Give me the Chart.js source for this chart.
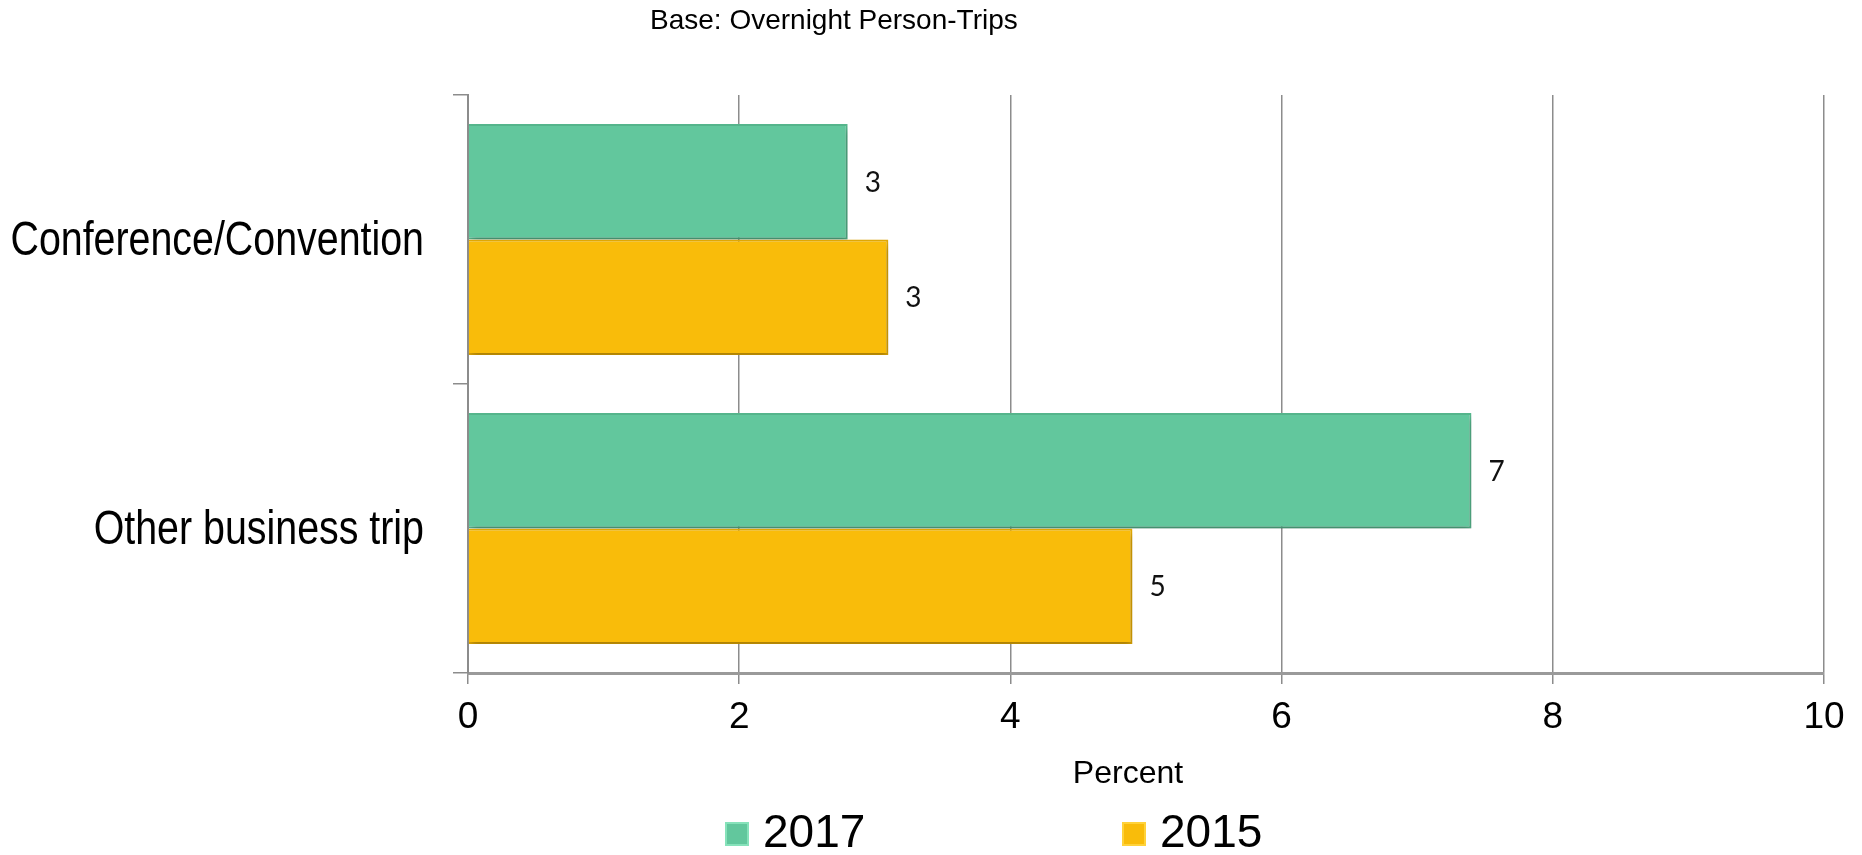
<!DOCTYPE html>
<html>
<head>
<meta charset="utf-8">
<script src="https://cdn.jsdelivr.net/npm/chart.js@4"></script>
<style>
  html, body { margin: 0; padding: 0; background: #fff; }
  #wrap { width: 1862px; height: 855px; }
</style>
</head>
<body>
<div id="wrap"><canvas id="tripChart" width="1862" height="855"></canvas></div>
<script>
// Chart data
const categories = ["Conference/Convention", "Other business trip"];
const years = ["2017", "2015"];
const values2017 = [2.8, 7.4];
const values2015 = [3.1, 4.9];
const xTicks = [0, 2, 4, 6, 8, 10];

const chartTitle = "Base: Overnight Person-Trips";
const xAxisTitle = "Percent";

const green = "#62C79D";
const yellow = "#F9BC0A";
const plainFont = "'Liberation Sans', Arial, sans-serif";

// soft shadow under the bars
const barShadow = {
  id: "barShadow",
  beforeDatasetsDraw(chart) {
    const ctx = chart.ctx;
    ctx.save();
    ctx.shadowColor = "rgba(0, 0, 0, 0.28)";
    ctx.shadowBlur = 7;
    ctx.shadowOffsetX = 2;
    ctx.shadowOffsetY = 4;
  },
  afterDatasetsDraw(chart) {
    chart.ctx.restore();
  },
};

// value labels at the end of each bar
const valueLabels = {
  id: "valueLabels",
  afterDatasetsDraw(chart) {
    const ctx = chart.ctx;
    ctx.save();
    ctx.font = "28px Lato, 'Open Sans', sans-serif";
    ctx.fillStyle = "#111";
    ctx.textAlign = "left";
    ctx.textBaseline = "middle";
    chart.data.datasets.forEach((ds, i) => {
      chart.getDatasetMeta(i).data.forEach((bar, j) => {
        ctx.fillText(String(Math.round(ds.data[j])), bar.x + 17, bar.y + 1);
      });
    });
    ctx.restore();
  },
};

// category names in a condensed face (no narrow font installed, so squeeze it)
const categoryLabels = {
  id: "categoryLabels",
  afterDraw(chart) {
    const ctx = chart.ctx;
    const yScale = chart.scales.y;
    const rightEdge = chart.chartArea.left - 15 - 29;
    ctx.save();
    ctx.fillStyle = "#000";
    ctx.font = "48px " + plainFont;
    ctx.textAlign = "right";
    ctx.textBaseline = "middle";
    yScale.ticks.forEach((tick, i) => {
      const y = yScale.getPixelForTick(i);
      ctx.save();
      ctx.translate(rightEdge, y + 2);
      ctx.scale(0.82, 1);
      ctx.fillText(yScale.getLabelForValue(tick.value), 0, 0);
      ctx.restore();
    });
    ctx.restore();
  },
};

// header text, axis title and the spread-out legend
const headerAndLegend = {
  id: "headerAndLegend",
  afterDraw(chart) {
    const ctx = chart.ctx;
    ctx.save();
    ctx.fillStyle = "#000";
    ctx.font = "28px " + plainFont;
    ctx.textAlign = "left";
    ctx.textBaseline = "alphabetic";
    ctx.fillText(chartTitle, 650, 29);

    ctx.font = "32px " + plainFont;
    ctx.textAlign = "center";
    ctx.textBaseline = "middle";
    ctx.fillText(xAxisTitle, 1128, 774);

    ctx.textAlign = "left";
    ctx.textBaseline = "alphabetic";
    const legendX = [725, 1122];
    chart.data.datasets.forEach((ds, i) => {
      const x = legendX[i];
      ctx.fillStyle = ds.backgroundColor;
      ctx.fillRect(x, 822, 24, 24);
      ctx.strokeStyle = ds.legendEdge;
      ctx.lineWidth = 2;
      ctx.strokeRect(x + 1, 823, 22, 22);
      ctx.fillStyle = "#000";
      ctx.font = "46px " + plainFont;
      ctx.fillText(ds.label, x + 38, 847);
    });
    ctx.restore();
  },
};

const ctx = document.getElementById("tripChart").getContext("2d");

new Chart(ctx, {
  type: "bar",
  data: {
    labels: categories,
    datasets: [
      {
        label: years[0],
        data: values2017,
        backgroundColor: green,
        borderColor: "#57B88E",
        borderWidth: 2,
        legendEdge: "#86E2BA",
      },
      {
        label: years[1],
        data: values2015,
        backgroundColor: yellow,
        borderColor: "#E2A905",
        borderWidth: 2,
        legendEdge: "#FFD23A",
      },
    ],
  },
  options: {
    indexAxis: "y",
    responsive: false,
    animation: false,
    devicePixelRatio: 1,
    layout: { padding: { top: 95, left: 0, right: 38, bottom: 64 } },
    datasets: {
      bar: { categoryPercentage: 0.8, barPercentage: 1.0 },
    },
    plugins: {
      legend: { display: false },
      title: { display: false },
      tooltip: { enabled: false },
    },
    scales: {
      x: {
        min: 0,
        max: 10,
        afterBuildTicks(scale) {
          scale.ticks = xTicks.map((v) => ({ value: v }));
        },
        afterFit(scale) {
          scale.height = 118;
        },
        grid: {
          color: "#8C8C8C",
          lineWidth: 1.5,
          tickLength: 11,
          drawTicks: true,
        },
        border: { display: true, color: "#9A9A9A", width: 3 },
        ticks: {
          padding: 12,
          color: "#000",
          font: { family: plainFont, size: 37 },
        },
        title: { display: false },
      },
      y: {
        offset: true,
        afterFit(scale) {
          scale.width = 468;
        },
        grid: {
          offset: true,
          drawOnChartArea: false,
          drawTicks: true,
          tickLength: 15,
          color: "#8C8C8C",
          lineWidth: 1.5,
        },
        border: { display: true, color: "#8C8C8C", width: 2 },
        ticks: { display: false },
      },
    },
  },
  plugins: [barShadow, valueLabels, categoryLabels, headerAndLegend],
});
</script>
</body>
</html>
